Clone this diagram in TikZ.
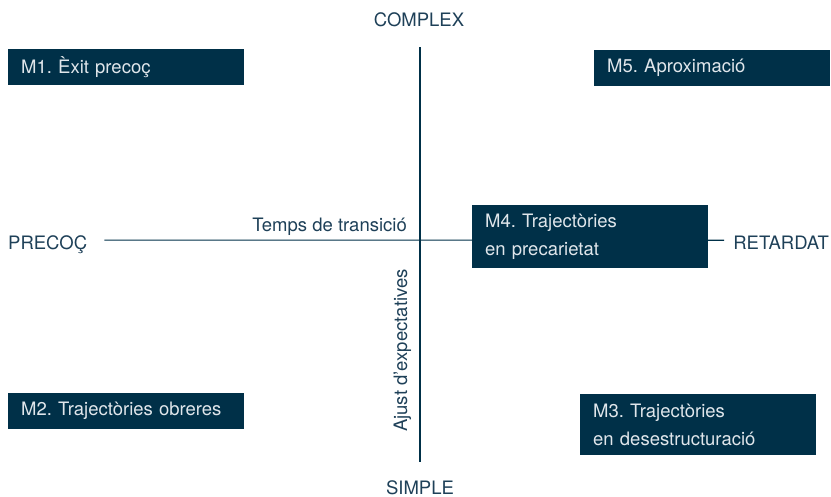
\documentclass[tikz,border=0pt]{standalone}
\usepackage{fontspec}
\setmainfont{TeX Gyre Heros}
\frenchspacing
\usetikzlibrary{positioning}
\definecolor{marina}{RGB}{0,48,72}
\definecolor{tinta}{RGB}{30,64,88}
\definecolor{clar}{RGB}{224,230,235}

\begin{document}
\begin{tikzpicture}[x=1pt, y=-1pt,
		eix/.style={draw=marina, line width=1.1pt},
		etiq/.style={text=tinta, inner sep=0pt, text depth=0pt, font=\fontsize{18.5}{23}\selectfont},
		caixa/.style={fill=marina, text=clar, anchor=north west, inner xsep=13pt,
			text width=210pt, align=left, minimum height=36pt,
			font=\fontsize{18.5}{28}\selectfont}]
	\useasboundingbox (0,0) rectangle (831,497);
	% extrems dels eixos
	\node[etiq, anchor=base] (complex) at (419,27) {COMPLEX};
	\node[etiq, anchor=base] (simple) at (420,494) {SIMPLE};
	\node[etiq, anchor=base west] (precoc) at (8,250) {PRECOÇ};
	\node[etiq, anchor=base east] (retardat) at (829,250) {RETARDAT};
	% eixos
	\draw[eix, shorten <=17pt, shorten >=9pt] ([yshift=3pt]precoc.east) -- ([yshift=3pt]retardat.west);
	\draw[eix, shorten <=20pt, shorten >=18pt] (complex.south -| simple) -- (simple.north);
	\node[etiq, anchor=base east] (temps) at (407,232) {Temps de transició};
	\node[etiq, rotate=90, anchor=base west] (ajust) at (407,432) {Ajust d’expectatives};
	% models
	\node[caixa] (m1) at (8,49) {M1. Èxit precoç};
	\node[caixa] (m5) at (594,50) {M5. Aproximació};
	\node[caixa, minimum height=63pt] (m4) at (472,205) {M4. Trajectòries\\en precarietat};
	\node[caixa] (m2) at (8,393) {M2. Trajectòries obreres};
	\node[caixa, minimum height=61pt] (m3) at (580,394) {M3. Trajectòries\\en desestructuració};
\end{tikzpicture}
\end{document}
